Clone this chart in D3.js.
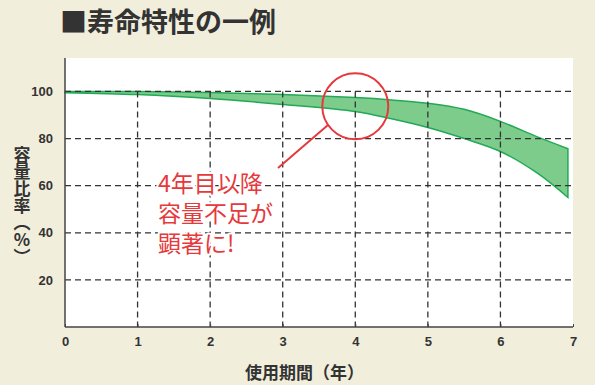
<!DOCTYPE html>
<html>
<head>
<meta charset="UTF-8">
<script src="https://cdn.jsdelivr.net/npm/d3@7"></script>
<style>
  body { margin: 0; background: #f1eedc; }
  svg { display: block; }
  text { font-family: "Noto Sans CJK JP", "Noto Sans", sans-serif; }
</style>
</head>
<body>
<svg id="chart" width="595" height="385"></svg>
<script>
// 使用期間（年）と容量比率（%）の上限・下限
var years = [0, 1, 2, 3, 4, 4.5, 5, 5.5, 6, 6.5, 6.93];
var upper = [100, 100, 99.6, 98.7, 97.4, 96.4, 95.0, 92.4, 87.3, 80.8, 75.7];
var lower = [99.5, 98.7, 97.0, 94.5, 91.5, 88.4, 84.7, 80.0, 74.5, 65.5, 55.0];
var xTicks = [0, 1, 2, 3, 4, 5, 6, 7];
var yTicks = [20, 40, 60, 80, 100];
var note = ["4年目以降", "容量不足が", "顕著に!"];

var svg = d3.select("#chart"),
    margin = {top: 58, right: 22, bottom: 58, left: 65},
    width = +svg.attr("width") - margin.left - margin.right,
    height = +svg.attr("height") - margin.top - margin.bottom;

var x = d3.scaleLinear().domain([0, 7]).range([0, width]);
var y = d3.scaleLinear().domain([0, 114.2]).range([height, 0]);

// タイトル
svg.append("text")
    .attr("x", 60).attr("y", 32)
    .attr("font-size", "27px")
    .attr("font-weight", "bold")
    .attr("fill", "#333")
    .text("■寿命特性の一例");

var g = svg.append("g")
    .attr("transform", "translate(" + margin.left + "," + margin.top + ")");

// 白いプロット領域
g.append("rect")
    .attr("width", width).attr("height", height)
    .attr("fill", "#fff");

// 帯（容量比率の範囲）
var band = years.map(function(d, i) { return {x: d, hi: upper[i], lo: lower[i]}; });
g.append("path")
    .datum(band)
    .attr("fill", "#7dcc8c")
    .attr("stroke", "#22a957")
    .attr("stroke-width", 1.5)
    .attr("d", d3.area()
        .curve(d3.curveCatmullRom)
        .x(function(d) { return x(d.x); })
        .y0(function(d) { return y(d.lo); })
        .y1(function(d) { return y(d.hi); }));

// グリッド（破線）
g.selectAll(".hgrid")
    .data(yTicks)
    .enter().append("line")
    .attr("x1", 0).attr("x2", width)
    .attr("y1", function(d) { return y(d); })
    .attr("y2", function(d) { return y(d); })
    .attr("stroke", "#333")
    .attr("stroke-width", 1.3)
    .attr("stroke-dasharray", "6,4");

g.selectAll(".vgrid")
    .data(xTicks.slice(1, 7))
    .enter().append("line")
    .attr("x1", function(d) { return x(d); })
    .attr("x2", function(d) { return x(d); })
    .attr("y1", y(100)).attr("y2", height)
    .attr("stroke", "#333")
    .attr("stroke-width", 1.3)
    .attr("stroke-dasharray", "6,4");

// 軸
var xAxis = g.append("g")
    .attr("transform", "translate(0," + height + ")")
    .call(d3.axisBottom(x).tickValues(xTicks).tickSize(-3).tickPadding(10).tickFormat(d3.format("d")));
var yAxis = g.append("g")
    .call(d3.axisLeft(y).tickValues(yTicks).tickSize(0).tickPadding(12));

[xAxis, yAxis].forEach(function(a) {
    a.select(".domain").attr("stroke", "#444").attr("stroke-width", 1.5);
    a.selectAll(".tick line").attr("stroke", "#444");
    a.selectAll("text")
        .attr("font-size", "13px")
        .attr("font-weight", "bold")
        .attr("fill", "#333")
        .style("font-family", "'Liberation Sans', Arial, sans-serif");
});
xAxis.select(".domain").attr("d", "M0,0H" + width);
yAxis.select(".domain").attr("d", "M0,0V" + height);

// 軸ラベル
svg.append("text")
    .attr("x", margin.left + x(3.3)).attr("y", 379)
    .attr("text-anchor", "middle")
    .attr("font-size", "17px")
    .attr("font-weight", "bold")
    .attr("fill", "#333")
    .text("使用期間（年）");

svg.append("text")
    .attr("x", 22).attr("y", 146)
    .attr("font-size", "17px")
    .attr("font-weight", "bold")
    .attr("fill", "#333")
    .style("writing-mode", "vertical-rl")
    .style("text-orientation", "upright")
    .text("容量比率（%）");

// 注記
var red = "#e5393b";
g.append("circle")
    .attr("cx", x(4)).attr("cy", y(93.7))
    .attr("r", 33)
    .attr("fill", "none")
    .attr("stroke", red)
    .attr("stroke-width", 2);

g.append("line")
    .attr("x1", x(3.624)).attr("y1", y(85.8))
    .attr("x2", x(2.935)).attr("y2", y(67.5))
    .attr("stroke", red)
    .attr("stroke-width", 2);

g.append("text")
    .attr("y", y(57.3))
    .attr("font-size", "23px")
    .attr("fill", red)
    .attr("stroke", "#fff")
    .attr("stroke-width", 4)
    .attr("stroke-linejoin", "round")
    .attr("paint-order", "stroke")
    .selectAll("tspan")
    .data(note)
    .enter().append("tspan")
    .attr("x", x(1.28))
    .attr("dy", function(d, i) { return i ? 30 : 0; })
    .text(function(d) { return d; });
</script>
</body>
</html>
